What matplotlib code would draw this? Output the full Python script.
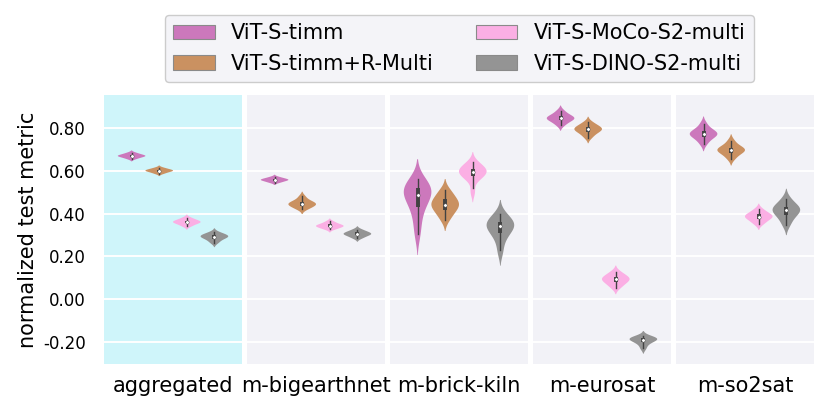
import numpy as np
import matplotlib.pyplot as plt
from matplotlib.patches import Patch
from matplotlib.ticker import FormatStrFormatter

plt.rcParams['font.family'] = ['DejaVu Sans']
plt.rcParams['axes.unicode_minus'] = False

datasets = ['aggregated', 'm-bigearthnet', 'm-brick-kiln', 'm-eurosat', 'm-so2sat']
models = ['ViT-S-timm', 'ViT-S-timm+R-Multi', 'ViT-S-MoCo-S2-multi', 'ViT-S-DINO-S2-multi']
colors = ['#CC78BC', '#CA9161', '#FBAFE4', '#949494']

# normalized test metric samples (one list per model)
aggregated = [
    [0.655, 0.660, 0.664, 0.667, 0.669, 0.670, 0.672, 0.675, 0.679, 0.684],
    [0.586, 0.591, 0.595, 0.598, 0.600, 0.601, 0.603, 0.606, 0.609, 0.614],
    [0.340, 0.347, 0.353, 0.357, 0.360, 0.361, 0.364, 0.368, 0.373, 0.380],
    [0.262, 0.273, 0.281, 0.287, 0.291, 0.293, 0.296, 0.300, 0.305, 0.312],
]
bigearthnet = [
    [0.544, 0.548, 0.552, 0.555, 0.557, 0.558, 0.560, 0.563, 0.566, 0.571],
    [0.420, 0.428, 0.434, 0.440, 0.444, 0.446, 0.450, 0.456, 0.464, 0.480],
    [0.326, 0.331, 0.336, 0.339, 0.342, 0.343, 0.346, 0.350, 0.355, 0.363],
    [0.284, 0.291, 0.297, 0.301, 0.304, 0.306, 0.309, 0.313, 0.318, 0.325],
]
brick_kiln = [
    [0.300, 0.360, 0.410, 0.440, 0.465, 0.480, 0.495, 0.505, 0.515, 0.525, 0.540, 0.560],
    [0.370, 0.395, 0.410, 0.425, 0.435, 0.442, 0.450, 0.460, 0.475, 0.490, 0.510],
    [0.500, 0.555, 0.570, 0.580, 0.588, 0.594, 0.600, 0.607, 0.614, 0.625, 0.640],
    [0.220, 0.270, 0.300, 0.315, 0.330, 0.340, 0.348, 0.356, 0.365, 0.378, 0.400],
]
eurosat = [
    [0.812, 0.825, 0.834, 0.840, 0.844, 0.847, 0.851, 0.857, 0.866, 0.880],
    [0.755, 0.770, 0.780, 0.787, 0.792, 0.796, 0.800, 0.806, 0.814, 0.826],
    [0.052, 0.066, 0.076, 0.084, 0.090, 0.095, 0.100, 0.106, 0.115, 0.128],
    [-0.232, -0.214, -0.203, -0.196, -0.191, -0.188, -0.185, -0.182, -0.178, -0.172],
]
so2sat = [
    [0.725, 0.745, 0.757, 0.765, 0.770, 0.774, 0.779, 0.786, 0.797, 0.820],
    [0.655, 0.672, 0.683, 0.690, 0.695, 0.699, 0.703, 0.710, 0.720, 0.740],
    [0.350, 0.362, 0.372, 0.379, 0.384, 0.388, 0.392, 0.398, 0.407, 0.420],
    [0.345, 0.372, 0.390, 0.402, 0.412, 0.418, 0.425, 0.434, 0.446, 0.470],
]
samples = [aggregated, bigearthnet, brick_kiln, eurosat, so2sat]

y_ticks = [-0.2, 0.0, 0.2, 0.4, 0.6, 0.8]

panel_bg = '#F2F2F7'
highlight_bg = '#CFF5FA'
inner_gray = '#424242'


# gaussian kde with scott bandwidth, tails cut at 2 bandwidths (like seaborn)
def kde_curve(vals, n_grid=200, cut=2):
    vals = np.asarray(vals)
    bw = vals.std(ddof=1) * len(vals) ** (-1 / 5)
    support = np.linspace(vals.min() - cut * bw, vals.max() + cut * bw, n_grid)
    dens = np.exp(-0.5 * ((support[:, None] - vals[None, :]) / bw) ** 2).sum(axis=1)
    return support, dens / dens.max()


def draw_violin(ax, vals, center, color, half_width=0.1):
    support, dens = kde_curve(vals)
    ax.fill_betweenx(support, center - dens * half_width, center + dens * half_width,
                     facecolor=color, edgecolor='none', zorder=2)
    q25, q50, q75 = np.percentile(vals, [25, 50, 75])
    iqr = q75 - q25
    lo = max(q25 - 1.5 * iqr, np.min(vals))
    hi = min(q75 + 1.5 * iqr, np.max(vals))
    ax.plot([center, center], [lo, hi], color=inner_gray, lw=1.0, zorder=3)
    ax.plot([center, center], [q25, q75], color=inner_gray, lw=2.8,
            solid_capstyle='butt', zorder=3)
    ax.scatter([center], [q50], s=6, color='white', edgecolor=inner_gray,
               linewidth=0.3, zorder=4)


fig, axes = plt.subplots(1, 5, sharey=True, figsize=(8.3, 4.16), dpi=100)
fig.subplots_adjust(left=0.1253, right=0.9807, bottom=0.125, top=0.7716, wspace=0.036)

positions = [-0.3, -0.1, 0.1, 0.3]
for i, ax in enumerate(axes):
    ax.set_facecolor(highlight_bg if i == 0 else panel_bg)
    for s in ax.spines.values():
        s.set_visible(False)
    ax.set_axisbelow(True)
    ax.grid(axis='y', color='white', lw=1.4)
    for vals, pos, col in zip(samples[i], positions, colors):
        draw_violin(ax, vals, pos, col)
    ax.set_xlim(-0.5, 0.5)
    ax.set_xticks([0])
    ax.set_xticklabels([datasets[i]], fontsize=15)
    ax.tick_params(axis='x', length=0, pad=9)
    ax.tick_params(axis='y', length=0, pad=13, labelsize=12)

axes[0].set_ylim(-0.303, 0.954)
axes[0].set_yticks(y_ticks)
axes[0].yaxis.set_major_formatter(FormatStrFormatter('%.2f'))
axes[0].set_ylabel('normalized test metric', fontsize=15, labelpad=4)

handles = [Patch(facecolor=c, edgecolor='#8a8a8a', linewidth=0.8) for c in colors]
fig.legend(handles, models, loc='upper center', ncol=2, fontsize=15,
           bbox_to_anchor=(0.5536, 0.964), borderaxespad=0,
           facecolor='#F4F4F8', edgecolor='#CCCCCC', framealpha=1.0)

fig.savefig('out.png', dpi=100)
